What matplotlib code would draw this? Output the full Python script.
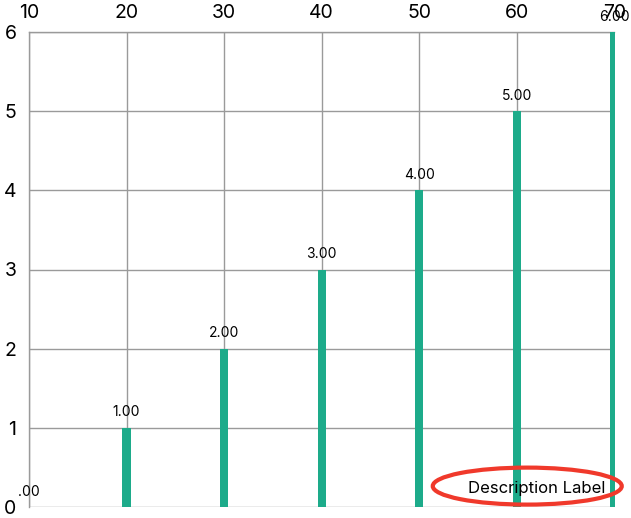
import matplotlib.pyplot as plt
from matplotlib.patches import Ellipse
from matplotlib.transforms import Bbox

x_vals = [10, 20, 30, 40, 50, 60, 70]
y_vals = [0, 1, 2, 3, 4, 5, 6]
x_ticks = [10, 20, 30, 40, 50, 60, 70]
y_ticks = [0, 1, 2, 3, 4, 5, 6]
desc = 'Description Label'

bar_color = '#1dab8a'
grid_color = '#9a9a9a'

plt.rcParams['font.family'] = ['Inter', 'DejaVu Sans']

fig = plt.figure(figsize=(6.31, 5.18), dpi=100)
ax = fig.add_axes([29 / 631, 11 / 518, 585.5 / 631, 475 / 518])

ax.bar(x_vals, y_vals, width=0.85, color=bar_color, zorder=3)

ax.set_xlim(10, 70)
ax.set_ylim(0, 6)
ax.set_xticks(x_ticks)
ax.set_yticks(y_ticks)
ax.xaxis.tick_top()
ax.tick_params(axis='both', length=0, labelsize=14, colors='black')
ax.tick_params(axis='x', pad=7)
ax.tick_params(axis='y', pad=9)
ax.grid(True, color=grid_color, linewidth=1)

for side in ['right', 'bottom']:
    ax.spines[side].set_visible(False)
for side in ['top', 'left']:
    ax.spines[side].set_color(grid_color)
    ax.spines[side].set_linewidth(1)

# value labels above bars; the first one is partly hidden at the left edge
clip = Bbox.from_extents(17.5, 0, 631, 518)
for xv, yv in zip(x_vals, y_vals):
    t = ax.annotate(f'{yv:.2f}', xy=(xv, yv), xytext=(0, 6), textcoords='offset points',
                    ha='center', va='bottom', fontsize=10, annotation_clip=False, zorder=5)
    if xv == x_vals[0]:
        t.set_position((-3, 6))
        t.set_clip_on(True)
        t.set_clip_box(clip)

ax.text(0.985, 0.04, desc, transform=ax.transAxes, ha='right', va='center', fontsize=12, zorder=5)
ell = Ellipse((0.851, 0.044), 189 / 585.5, 37 / 475, transform=ax.transAxes, fill=False,
              edgecolor='#f0392b', linewidth=3, clip_on=False, zorder=6)
ax.add_patch(ell)

fig.savefig('out.png', dpi=100)
